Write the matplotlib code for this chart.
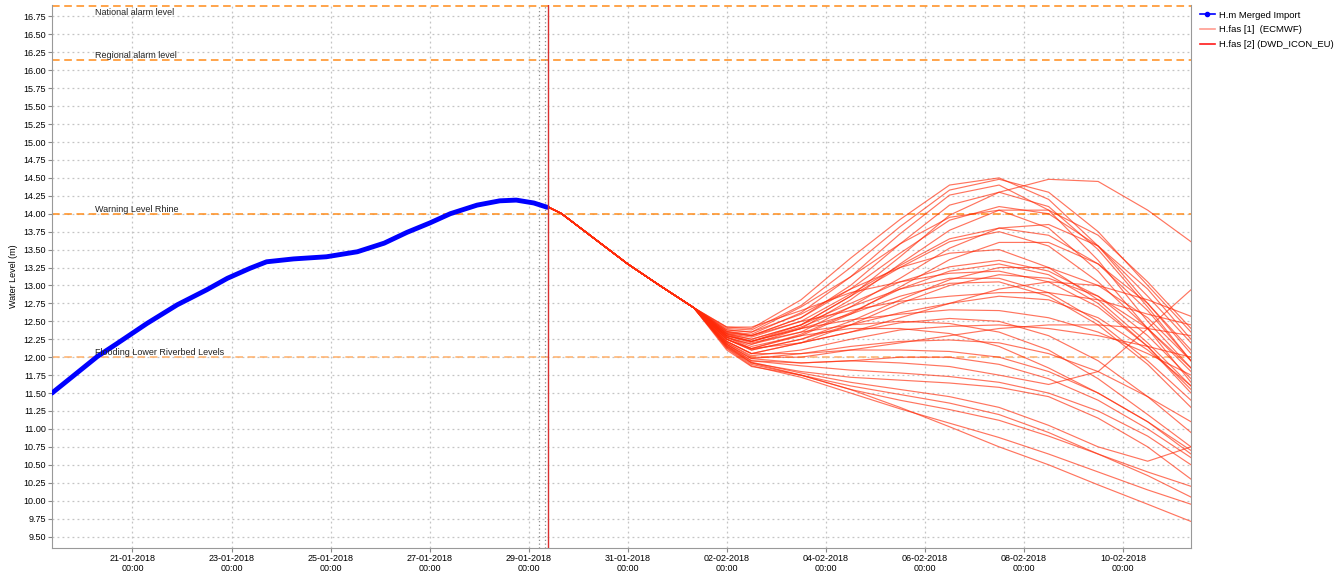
import matplotlib
matplotlib.use("Agg")
import matplotlib.pyplot as plt
import matplotlib.dates as mdates
from matplotlib.lines import Line2D
import pandas as pd

plt.rcParams['font.family'] = ['Liberation Sans Narrow', 'Liberation Sans', 'DejaVu Sans']

# --- measured water level (H.m Merged Import) ---
obs_times = ['2018-01-19 09:00', '2018-01-20 07:00', '2018-01-20 16:30', '2018-01-21 07:00',
             '2018-01-21 21:40', '2018-01-22 12:00', '2018-01-22 22:00', '2018-01-23 09:00',
             '2018-01-23 17:00', '2018-01-24 06:00', '2018-01-24 22:00', '2018-01-25 13:00',
             '2018-01-26 02:00', '2018-01-26 13:00', '2018-01-27 00:00', '2018-01-27 10:00',
             '2018-01-27 23:00', '2018-01-28 10:00', '2018-01-28 18:00', '2018-01-29 02:30',
             '2018-01-29 09:00']
obs_values = [11.50, 12.01, 12.19, 12.47, 12.73, 12.94, 13.10, 13.24, 13.33, 13.37, 13.40,
              13.47, 13.59, 13.74, 13.87, 14.00, 14.12, 14.18, 14.19, 14.15, 14.09]

# --- forecast: common part of all ensemble members ---
trunk_times = ['2018-01-29 09:00', '2018-01-29 16:00', '2018-01-30 08:00', '2018-01-31 00:00',
               '2018-01-31 15:30', '2018-02-01 08:00']
trunk_values = [14.10, 14.00, 13.65, 13.30, 13.00, 12.69]

# --- forecast: ECMWF ensemble members after they split ---
ens_times = ['2018-02-02 00:00', '2018-02-02 12:00', '2018-02-03 12:00', '2018-02-04 12:00',
             '2018-02-05 12:00', '2018-02-06 12:00', '2018-02-07 12:00', '2018-02-08 12:00',
             '2018-02-09 12:00', '2018-02-10 12:00', '2018-02-11 09:00']
ens_members = [
    [12.42, 12.40, 12.80, 13.38, 13.92, 14.40, 14.50, 14.20, 13.55, 12.75, 12.05],
    [12.40, 12.38, 12.72, 13.25, 13.82, 14.33, 14.48, 14.30, 13.75, 13.00, 12.35],
    [12.36, 12.32, 12.62, 13.12, 13.72, 14.26, 14.40, 14.05, 13.35, 12.50, 11.85],
    [12.35, 12.30, 12.55, 13.00, 13.58, 14.12, 14.30, 14.10, 13.50, 12.70, 11.95],
    [12.32, 12.25, 12.45, 12.85, 13.40, 13.98, 14.30, 14.48, 14.45, 14.05, 13.61],
    [12.36, 12.30, 12.55, 12.95, 13.45, 13.91, 14.10, 14.00, 13.55, 12.85, 12.20],
    [12.32, 12.22, 12.40, 12.80, 13.30, 13.77, 14.05, 14.05, 13.70, 13.05, 12.40],
    [12.33, 12.25, 12.45, 12.85, 13.25, 13.61, 13.75, 13.55, 13.05, 12.40, 11.80],
    [12.30, 12.20, 12.35, 12.70, 13.10, 13.52, 13.80, 13.85, 13.55, 12.95, 12.25],
    [12.38, 12.35, 12.60, 12.95, 13.25, 13.45, 13.50, 13.25, 12.80, 12.20, 11.60],
    [12.28, 12.15, 12.30, 12.60, 12.98, 13.36, 13.60, 13.60, 13.30, 12.75, 12.10],
    [12.30, 12.22, 12.45, 12.75, 13.05, 13.26, 13.35, 13.20, 12.85, 12.30, 11.70],
    [12.42, 12.42, 12.65, 12.90, 13.05, 13.17, 13.20, 13.05, 12.70, 12.15, 11.55],
    [12.25, 12.10, 12.25, 12.50, 12.80, 13.08, 13.25, 13.25, 13.00, 12.55, 11.95],
    [12.28, 12.18, 12.40, 12.60, 12.85, 13.03, 13.05, 12.85, 12.45, 11.90, 11.30],
    [12.34, 12.30, 12.50, 12.65, 12.78, 12.85, 12.90, 12.90, 12.80, 12.60, 12.45],
    [12.25, 12.10, 12.25, 12.45, 12.62, 12.75, 12.85, 12.80, 12.55, 12.10, 11.60],
    [12.30, 12.22, 12.40, 12.52, 12.60, 12.66, 12.65, 12.55, 12.35, 12.05, 11.75],
    [12.22, 12.05, 12.20, 12.35, 12.48, 12.54, 12.50, 12.30, 11.95, 11.45, 10.95],
    [12.27, 12.18, 12.35, 12.45, 12.50, 12.47, 12.35, 12.10, 11.70, 11.20, 10.75],
    [12.20, 12.02, 12.10, 12.25, 12.38, 12.43, 12.45, 12.40, 12.30, 12.15, 12.00],
    [12.25, 12.12, 12.30, 12.40, 12.40, 12.33, 12.15, 11.85, 11.50, 11.10, 10.70],
    [12.18, 11.98, 12.05, 12.15, 12.22, 12.24, 12.20, 12.05, 11.80, 11.45, 11.10],
    [12.22, 12.05, 12.05, 12.10, 12.10, 12.08, 12.00, 11.80, 11.50, 11.10, 10.65],
    [12.18, 11.98, 11.92, 11.95, 11.92, 11.87, 11.75, 11.62, 11.80, 12.40, 12.94],
    [12.16, 11.95, 11.88, 11.82, 11.78, 11.73, 11.65, 11.50, 11.25, 10.90, 10.50],
    [12.14, 11.92, 11.80, 11.72, 11.68, 11.64, 11.58, 11.45, 11.15, 10.75, 10.30],
    [12.16, 11.93, 11.78, 11.65, 11.55, 11.45, 11.30, 11.05, 10.75, 10.55, 10.75],
    [12.13, 11.90, 11.75, 11.60, 11.48, 11.36, 11.20, 10.95, 10.65, 10.35, 10.05],
    [12.15, 11.92, 11.75, 11.55, 11.40, 11.27, 11.12, 10.90, 10.65, 10.40, 10.20],
    [12.12, 11.88, 11.72, 11.50, 11.28, 11.08, 10.88, 10.65, 10.40, 10.15, 9.95],
    [12.10, 11.87, 11.75, 11.55, 11.30, 11.03, 10.75, 10.50, 10.22, 9.95, 9.71],
    [12.33, 12.28, 12.50, 12.88, 13.28, 13.65, 13.80, 13.70, 13.30, 12.65, 11.95],
    [12.25, 12.12, 12.32, 12.62, 12.95, 13.20, 13.30, 13.15, 12.75, 12.15, 11.50],
    [12.30, 12.22, 12.42, 12.70, 12.95, 13.10, 13.10, 12.90, 12.50, 11.95, 11.40],
    [12.22, 12.05, 12.20, 12.45, 12.75, 13.00, 13.15, 13.10, 12.85, 12.40, 11.85],
    [12.38, 12.35, 12.70, 13.12, 13.58, 13.95, 14.05, 13.80, 13.20, 12.40, 11.65],
    [12.28, 12.12, 12.20, 12.35, 12.55, 12.75, 12.95, 13.05, 13.00, 12.80, 12.57],
    [12.20, 12.00, 12.00, 12.10, 12.20, 12.30, 12.40, 12.45, 12.45, 12.40, 12.30],
    [12.18, 11.95, 11.92, 11.95, 12.00, 12.00, 11.90, 11.70, 11.40, 11.00, 10.60],
]

# --- alarm levels ---
level_names = ['National alarm level', 'Regional alarm level', 'Warning Level Rhine',
               'Flooding Lower Riverbed Levels']
level_values = [16.89, 16.14, 14.00, 12.00]
level_colors = ['#ff8c1a', '#ff8c1a', '#ff8c1a', '#ffb06a']

x_ticks = pd.date_range('2018-01-21', '2018-02-10', freq='2D')
x_start = pd.Timestamp('2018-01-19 09:00')
x_end = pd.Timestamp('2018-02-11 09:00')

fig = plt.figure(figsize=(13.43, 5.71), dpi=100)
ax = fig.add_axes([52 / 1343, 1 - 548 / 571, (1191 - 52) / 1343, (548 - 5) / 571])

ax.grid(True, color='#c4c4c4', linestyle=(0, (1.5, 2.5)), linewidth=0.9)
ax.set_axisbelow(True)

# alarm levels
for name, val, col in zip(level_names, level_values, level_colors):
    ax.axhline(val, color=col, linestyle=(0, (5, 3)), linewidth=1.1, zorder=2)
    if val > 16.5:
        ax.text(pd.Timestamp('2018-01-20 06:00'), val - 0.015, name, fontsize=6.5,
                va='top', ha='left', color='#222222', zorder=6)
    else:
        ax.text(pd.Timestamp('2018-01-20 06:00'), val + 0.0, name, fontsize=6.5,
                va='bottom', ha='left', color='#222222', zorder=6)

# forecast time markers
ax.axvline(pd.Timestamp('2018-01-29 05:00'), color='#909090', linestyle=(0, (1, 2)), linewidth=0.9)
ax.axvline(pd.Timestamp('2018-01-29 08:00'), color='#909090', linestyle=(0, (1, 2)), linewidth=0.9)
ax.axvline(pd.Timestamp('2018-01-29 09:20'), color='#d83030', linewidth=1.0, zorder=5)

# ensemble members
t_member = pd.to_datetime(trunk_times + ens_times)
for member in ens_members:
    ax.plot(t_member, trunk_values + member, color='#ff2a08', alpha=0.65, linewidth=0.85, zorder=3)

# observations
ax.plot(pd.to_datetime(obs_times), obs_values, color='#0000ff', linewidth=3.5,
        solid_capstyle='round', zorder=4)

ax.set_xlim(x_start, x_end)
ax.set_ylim(9.34, 16.91)
ax.set_yticks([9.5 + 0.25 * i for i in range(30)])
ax.yaxis.set_major_formatter(matplotlib.ticker.FormatStrFormatter('%.2f'))
ax.set_xticks(x_ticks)
ax.xaxis.set_major_formatter(mdates.DateFormatter('%d-%m-%Y\n%H:%M'))
ax.tick_params(labelsize=6.5, length=3, color='#888888', pad=1.5)
for lab in ax.get_xticklabels():
    lab.set_horizontalalignment('center')
    lab.set_linespacing(1.05)

for side in ['left', 'bottom', 'right', 'top']:
    ax.spines[side].set_color('#999999')
ax.spines['top'].set_visible(False)

ax.set_ylabel('Water Level (m)', fontsize=6.5)
ax.yaxis.set_label_coords(-0.03, 0.5)

handles = [
    Line2D([], [], color='#0000ff', marker='o', markersize=3, linewidth=1.2),
    Line2D([], [], color='#ff9c90', linewidth=1.2),
    Line2D([], [], color='#ff1a1a', linewidth=1.2),
]
fig.legend(handles, ['H.m Merged Import', 'H.fas [1]  (ECMWF)', 'H.fas [2] (DWD_ICON_EU)'],
           loc='upper left', bbox_to_anchor=(1196 / 1343, 1 - 7 / 571), frameon=False,
           fontsize=6.8, handlelength=1.6, handletextpad=0.4, labelspacing=0.6, borderaxespad=0)

fig.savefig('out.png', dpi=100)
